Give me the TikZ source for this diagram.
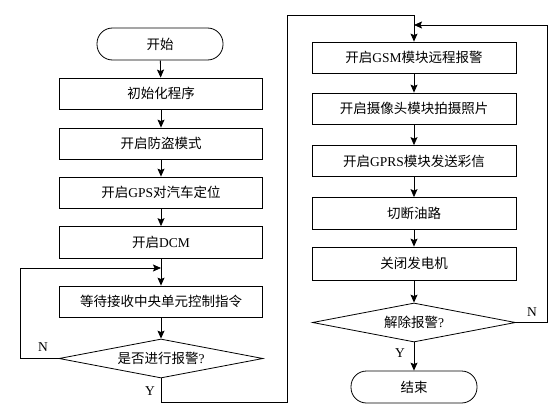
\documentclass[tikz,border=0pt]{standalone}
\usepackage{fontspec}
\setmainfont{Liberation Serif}
\newfontfamily\cjk{Noto Sans CJK SC}
\newcommand{\zh}[1]{{\cjk #1}}
\usetikzlibrary{shapes.geometric,arrows.meta}
\begin{document}
\begin{tikzpicture}[x=1pt,y=-1pt,
  every node/.style={font=\fontsize{13.5pt}{15pt}\selectfont},
  proc/.style={draw,line width=0.8pt,rectangle,minimum width=203pt,minimum height=31pt,inner sep=0pt},
  term/.style={draw,line width=0.8pt,rectangle,rounded corners=15.5pt,minimum width=126pt,minimum height=32pt,inner sep=0pt},
  decide/.style={draw,line width=0.8pt,diamond,aspect=5.2,inner sep=0pt,minimum width=204pt,minimum height=39pt},
  arr/.style={line width=0.8pt,-{Stealth[length=8pt,width=7pt,inset=1.5pt]}},
  ln/.style={line width=0.8pt},
  lab/.style={inner sep=0pt}]
\useasboundingbox (0,0) rectangle (559,412);
% left column
\node[term] (start) at (160,44) {\zh{开始}};
\node[proc] (init) at (161,93.5) {\zh{初始化程序}};
\node[proc] (anti) at (161,143.5) {\zh{开启防盗模式}};
\node[proc] (gps) at (161,192.5) {\zh{开启}GPS\zh{对汽车定位}};
\node[proc,minimum height=32pt] (dcm) at (161,242.5) {\zh{开启}DCM};
\node[proc] (wait) at (161,301.5) {\zh{等待接收中央单元控制指令}};
\node[decide] (dec1) at (161,358.5) {\zh{是否进行报警}?};
% right column
\node[proc,minimum width=204pt] (gsm) at (414,57.5) {\zh{开启}GSM\zh{模块远程报警}};
\node[proc,minimum width=204pt] (cam) at (414,108.5) {\zh{开启摄像头模块拍摄照片}};
\node[proc,minimum width=204pt] (gprs) at (414,161) {\zh{开启}GPRS\zh{模块发送彩信}};
\node[proc,minimum width=204pt,minimum height=32pt] (cut) at (414,213.5) {\zh{切断油路}};
\node[proc,minimum width=204pt,minimum height=33pt] (gen) at (414,263.5) {\zh{关闭发电机}};
\node[decide,minimum width=203pt] (dec2) at (414,322.5) {\zh{解除报警}?};
\node[term] (stop) at (414,387) {\zh{结束}};
% helper coordinates
\coordinate (j1) at (161,268);
\coordinate (lx) at (20,268);
\coordinate (b1) at (287,402);
\coordinate (t1) at (414,15);
\coordinate (r1) at (547,25);
\coordinate (j2) at (414,25);
% connectors
\draw[arr] (start) -- (init);
\draw[arr] (init) -- (anti);
\draw[arr] (anti) -- (gps);
\draw[arr] (gps) -- (dcm);
\draw[arr] (dcm) -- (wait);
\draw[arr] (wait) -- (dec1);
\draw[arr] (dec1.west) -| (lx) -- (j1);
\draw[arr] (dec1.south) |- (b1) |- (t1) -- (gsm.north);
\draw[arr] (gsm) -- (cam);
\draw[arr] (cam) -- (gprs);
\draw[arr] (gprs) -- (cut);
\draw[arr] (cut) -- (gen);
\draw[arr] (gen) -- (dec2);
\draw[arr] (dec2) -- (stop);
\draw[arr] (dec2.east) -| (r1) -- (j2);
% labels
\node[lab] (n1) at (43,347) {N};
\node[lab] (y1) at (150,391) {Y};
\node[lab] (n2) at (532,312) {N};
\node[lab] (y2) at (400,353) {Y};
\end{tikzpicture}
\end{document}
